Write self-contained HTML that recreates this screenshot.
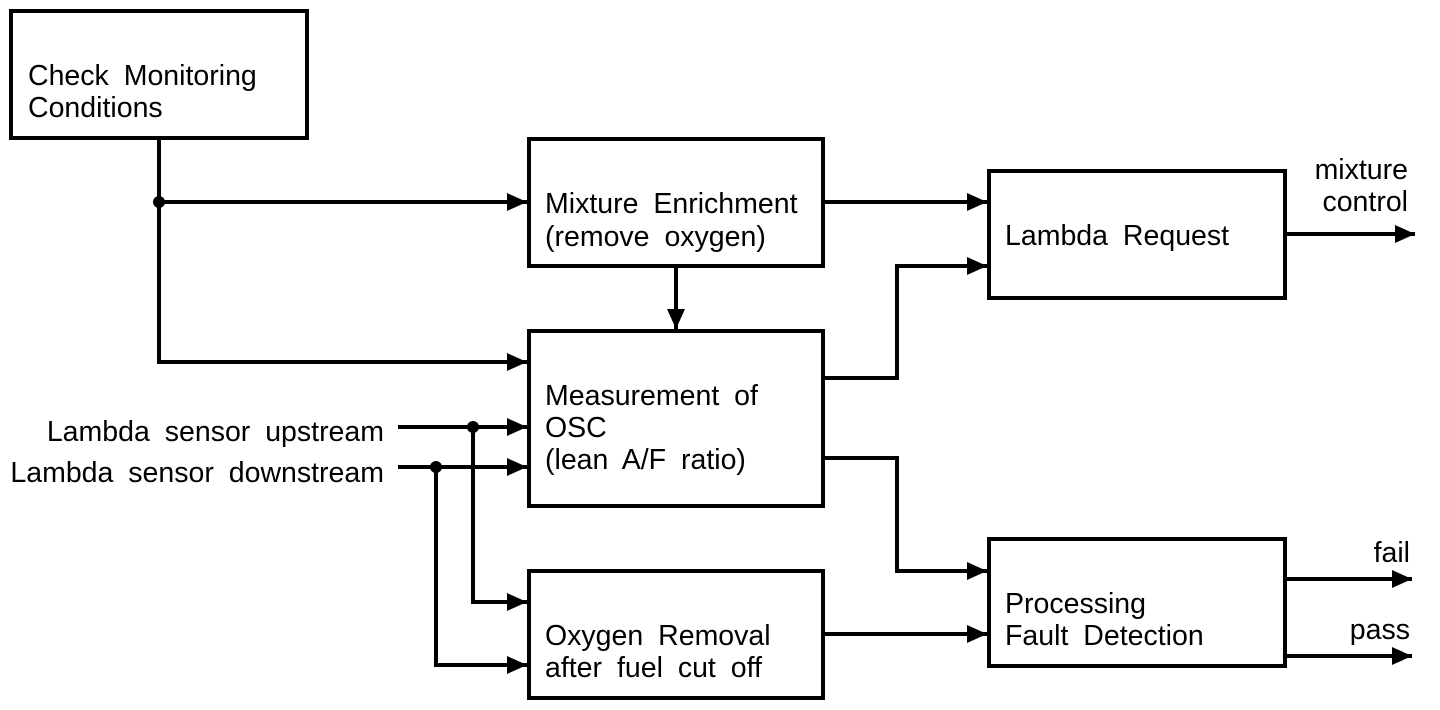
<!DOCTYPE html>
<html><head><style>
html,body{margin:0;padding:0;background:#fff;width:1440px;height:710px;overflow:hidden}
svg text{font-family:"Liberation Sans",Arial,sans-serif;font-size:28.5px;fill:#000;word-spacing:7px}
</style></head><body>
<svg width="1440" height="710" xmlns="http://www.w3.org/2000/svg">
<defs><marker id="a" markerWidth="22" markerHeight="20" refX="20" refY="10" orient="auto" markerUnits="userSpaceOnUse"><path d="M0,1 L20,10 L0,19 Z" fill="#000"/></marker></defs>
<g fill="none" stroke="#000" stroke-width="4">
<rect x="11" y="11" width="296" height="127"/>
<rect x="529" y="139" width="294" height="127"/>
<rect x="529" y="331" width="294" height="175"/>
<rect x="529" y="571" width="294" height="127"/>
<rect x="989" y="171" width="296" height="127"/>
<rect x="989" y="539" width="296" height="127"/>
<path d="M159,138 V362 H527" marker-end="url(#a)"/>
<path d="M159,202 H527" marker-end="url(#a)"/>
<path d="M823,202 H987" marker-end="url(#a)"/>
<path d="M676,266 V329" marker-end="url(#a)"/>
<path d="M823,378 H897 V266 H987" marker-end="url(#a)"/>
<path d="M823,458 H897 V571 H987" marker-end="url(#a)"/>
<path d="M823,634 H987" marker-end="url(#a)"/>
<path d="M1285,234 H1415" marker-end="url(#a)"/>
<path d="M1285,579 H1412" marker-end="url(#a)"/>
<path d="M1285,656 H1412" marker-end="url(#a)"/>
<path d="M398,427 H527" marker-end="url(#a)"/>
<path d="M473,427 V602 H527" marker-end="url(#a)"/>
<path d="M398,467 H527" marker-end="url(#a)"/>
<path d="M436,467 V665 H527" marker-end="url(#a)"/>
</g>
<circle cx="159" cy="202" r="6"/>
<circle cx="473" cy="427" r="6"/>
<circle cx="436" cy="467" r="6"/>
<text x="28" y="85">Check Monitoring</text>
<text x="28" y="117">Conditions</text>
<text x="545" y="213">Mixture Enrichment</text>
<text x="545" y="246">(remove oxygen)</text>
<text x="545" y="405">Measurement of</text>
<text x="545" y="437">OSC</text>
<text x="545" y="469">(lean A/F ratio)</text>
<text x="545" y="645">Oxygen Removal</text>
<text x="545" y="677">after fuel cut off</text>
<text x="1005" y="245">Lambda Request</text>
<text x="1005" y="613">Processing</text>
<text x="1005" y="645">Fault Detection</text>
<text x="1408" y="179" text-anchor="end">mixture</text>
<text x="1408" y="211" text-anchor="end">control</text>
<text x="1410" y="562" text-anchor="end">fail</text>
<text x="1410" y="639" text-anchor="end">pass</text>
<text x="384" y="441" text-anchor="end">Lambda sensor upstream</text>
<text x="384" y="482" text-anchor="end">Lambda sensor downstream</text>
</svg>
</body></html>
